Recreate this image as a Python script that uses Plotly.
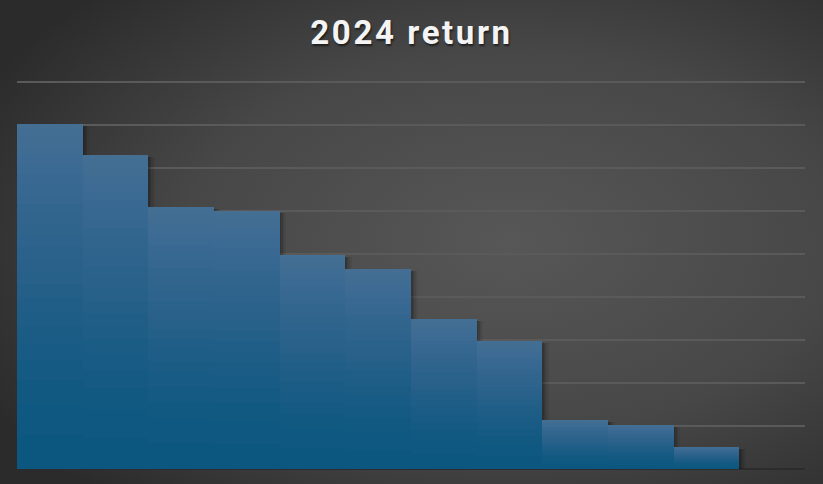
import base64
import plotly.graph_objects as go

categories = [str(i) for i in range(1, 13)]
returns = [80.2, 73.0, 60.9, 60.0, 49.8, 46.5, 34.9, 29.8, 11.4, 10.2, 5.1, None]
y_top_grid = 90
grid_step = 10

W, H = 823, 484
ML, MR, MT, MB = 17, 18, 79, 15
PW, PH = W - ML - MR, H - MT - MB
y_max = y_top_grid * PH / 387  # small headroom so the top gridline is drawn

svg = f'''<svg xmlns="http://www.w3.org/2000/svg" width="{W}" height="{H}" viewBox="0 0 {W} {H}">
<defs><radialGradient id="g" cx="0.62" cy="0.5" r="0.72" gradientUnits="objectBoundingBox">
<stop offset="0" stop-color="#575757"/><stop offset="0.55" stop-color="#474747"/><stop offset="1" stop-color="#2b2b2b"/>
</radialGradient></defs><rect width="{W}" height="{H}" fill="url(#g)"/></svg>'''
bg_uri = "data:image/svg+xml;base64," + base64.b64encode(svg.encode()).decode()

fig = go.Figure()

# soft shadow layers
for off, a in [(0.10, 0.06), (0.07, 0.08), (0.045, 0.10), (0.025, 0.12)]:
    fig.add_trace(go.Bar(
        x=categories, y=[None if v is None else v - 0.4 for v in returns],
        width=1.0, offset=-0.5 + off,
        marker=dict(color=f"rgba(0,0,0,{a})", line=dict(width=0)),
        hoverinfo="skip", showlegend=False))

# base bars
fig.add_trace(go.Bar(
    x=categories, y=returns, width=1.0, offset=-0.5,
    marker=dict(color="#0c5780", line=dict(width=0)),
    name="2024 return", showlegend=False))

# gradient layers (lighter towards the top, change concentrated in the upper part)
K = 24
alpha = 1 - 0.5 ** (1 / K)
for k in range(K):
    tk = ((k + 0.5) / K) ** 0.6
    fig.add_trace(go.Bar(
        x=categories,
        y=[None if v is None else v * (1 - tk) for v in returns],
        base=[None if v is None else v * tk for v in returns],
        width=1.0, offset=-0.5,
        marker=dict(color=f"rgba(136,153,178,{alpha:.4f})", line=dict(width=0)),
        hoverinfo="skip", showlegend=False))

fig.update_layout(
    width=W, height=H,
    margin=dict(l=ML, r=MR, t=MT, b=MB),
    barmode="overlay",
    bargap=0,
    paper_bgcolor="#3c3c3c",
    plot_bgcolor="rgba(0,0,0,0)",
    title=dict(
        text="<b>2024 return</b>",
        x=0.5, xanchor="center", y=1 - 32 / H, yanchor="middle",
        font=dict(family="Roboto", size=33, color="#f4f4f4",
                  shadow="1px 2px 2px rgba(0,0,0,0.55)"),
    ),
    xaxis=dict(showticklabels=False, showgrid=False, zeroline=False,
               showline=False, ticks="", range=[-0.5, 11.5]),
    yaxis=dict(showticklabels=False, range=[0, y_max], dtick=grid_step,
               showgrid=True, gridcolor="#5a5a5a", gridwidth=1.5,
               zeroline=True, zerolinecolor="#2c2c2c", zerolinewidth=1.5,
               ticks=""),
    images=[dict(source=bg_uri, xref="paper", yref="paper",
                 x=-ML / PW, y=1 + MT / PH, sizex=W / PW, sizey=H / PH,
                 xanchor="left", yanchor="top", sizing="stretch", layer="below")],
)

post = """
document.body.style.margin='0';
document.body.style.background='#2b2b2b';
var t=document.querySelectorAll('.gtitle');
t.forEach(function(e){e.style.letterSpacing='2.6px';});
"""
fig.write_html("out.html", post_script=post, config={"displayModeBar": False})
